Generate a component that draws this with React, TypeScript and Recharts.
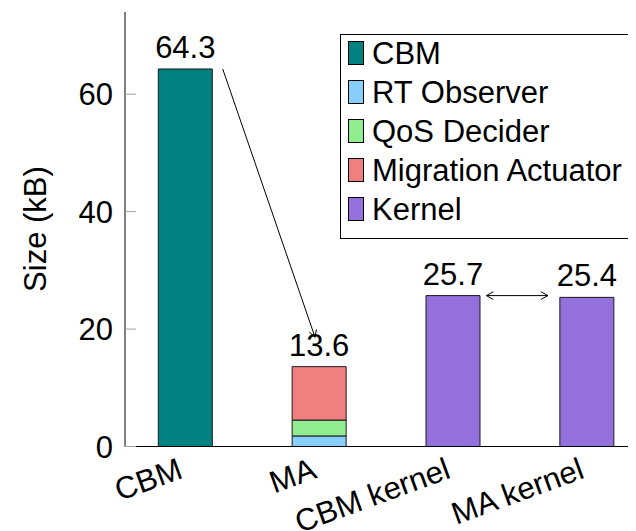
import React from "react";
import { BarChart, Bar, XAxis, YAxis, LabelList, ReferenceLine } from "recharts";

const categories = ["CBM", "MA", "CBM kernel", "MA kernel"];
const cbm = [64.3, null, null, null];
const rtObserver = [null, 1.8, null, null];
const qosDecider = [null, 2.7, null, null];
const migrationActuator = [null, 9.1, null, null];
const kernel = [null, null, 25.7, 25.4];
const totals = [64.3, 13.6, 25.7, 25.4];
const yTicks = [0, 20, 40, 60];

// annotation arrows, in data units
const shrinkArrow = [
  { x: 0.28, y: 64.3 },
  { x: 0.97, y: 18.6 },
];
const kernelArrow = [
  { x: 2.25, y: 25.7 },
  { x: 2.71, y: 25.7 },
];

const series = [
  { key: "cbm", name: "CBM", color: "#008080", values: cbm, top: true },
  { key: "rt", name: "RT Observer", color: "#87CEFA", values: rtObserver, top: false },
  { key: "qos", name: "QoS Decider", color: "#90EE90", values: qosDecider, top: false },
  { key: "mig", name: "Migration Actuator", color: "#F08080", values: migrationActuator, top: true },
  { key: "kernel", name: "Kernel", color: "#9370DB", values: kernel, top: true },
];

const data = categories.map((name, i) => {
  const row: Record<string, number | string | null> = { x: i, name, total: totals[i] };
  series.forEach((s) => (row[s.key] = s.values[i]));
  return row;
});

const FONT = 31;
const TICK_GRAY = "#a0a0a0";

function head(x: number, y: number, fx: number, fy: number) {
  // open chevron pointing at (x,y), coming from (fx,fy)
  const a = Math.atan2(y - fy, x - fx);
  const len = 8;
  const spread = 0.5;
  const p1 = [x - len * Math.cos(a - spread), y - len * Math.sin(a - spread)];
  const p2 = [x - len * Math.cos(a + spread), y - len * Math.sin(a + spread)];
  return `M${p1[0]},${p1[1]} L${x},${y} L${p2[0]},${p2[1]}`;
}

function arrowShape(both: boolean) {
  return (props: any) => {
    const { x1, y1, x2, y2 } = props;
    return (
      <g>
        <line x1={x1} y1={y1} x2={x2} y2={y2} stroke="#000" strokeWidth={1} />
        <path d={head(x2, y2, x1, y1)} fill="none" stroke="#000" strokeWidth={1} />
        {both && <path d={head(x1, y1, x2, y2)} fill="none" stroke="#000" strokeWidth={1} />}
      </g>
    );
  };
}

function BottomTick(props: any) {
  const { x, y, payload } = props;
  const label = categories[payload.value];
  const ex = x - 1;
  const ey = y + 31;
  return (
    <text
      x={ex}
      y={ey}
      textAnchor="end"
      fontSize={FONT}
      fill="#000"
      transform={`rotate(-20, ${ex}, ${ey})`}
    >
      {label}
    </text>
  );
}

function TopTick(props: any) {
  const { x, y } = props;
  return <line x1={x} y1={y} x2={x} y2={y + 10} stroke={TICK_GRAY} />;
}

function LeftTick(props: any) {
  const { x, y, payload } = props;
  return (
    <g>
      <line x1={x} y1={y} x2={x + 11} y2={y} stroke={TICK_GRAY} />
      <text x={x - 12} y={y} dy={11} textAnchor="end" fontSize={FONT} fill="#000">
        {payload.value}
      </text>
    </g>
  );
}

function totalLabel(props: any) {
  const { value } = props;
  if (value == null) return null;
  const vb = props.viewBox ?? props;
  const cx = vb.x + vb.width / 2;
  return (
    <text x={cx} y={vb.y - 11} textAnchor="middle" fontSize={FONT} fill="#000">
      {value}
    </text>
  );
}

export default function App() {
  return (
    <div
      style={{
        position: "relative",
        width: 628,
        height: 523,
        overflow: "hidden",
        fontFamily: '"Liberation Sans", Arial, Helvetica, sans-serif',
      }}
    >
      <BarChart
        width={650}
        height={523}
        data={data}
        margin={{ top: 4, right: 11, bottom: 0.5, left: 0 }}
      >
        <XAxis
          dataKey="x"
          type="number"
          domain={[-0.45, 3.45]}
          ticks={[0, 1, 2, 3]}
          allowDataOverflow
          height={84}
          axisLine={{ stroke: "#000" }}
          tickLine={false}
          tickSize={0}
          tickMargin={0}
          tick={<BottomTick />}
          interval={0}
        />
        <XAxis
          xAxisId="top"
          dataKey="x"
          orientation="top"
          type="number"
          domain={[-0.45, 3.45]}
          ticks={[0, 1, 2, 3]}
          allowDataOverflow
          height={0}
          axisLine={{ stroke: "#000" }}
          tickLine={false}
          tickSize={0}
          tickMargin={0}
          tick={<TopTick />}
          interval={0}
        />
        <YAxis
          type="number"
          domain={[0, 74]}
          ticks={yTicks}
          width={117}
          axisLine={{ stroke: "#000" }}
          tickLine={false}
          tickSize={0}
          tickMargin={0}
          tick={<LeftTick />}
          interval={0}
          label={{
            content: () => (
              <text
                x={27}
                y={221}
                textAnchor="middle"
                fontSize={FONT}
                fill="#000"
                transform="rotate(-90, 27, 221)"
                dy={11}
              >
                Size (kB)
              </text>
            ),
          }}
        />
        {series.map((s) => (
          <Bar
            key={s.key}
            dataKey={s.key}
            name={s.name}
            stackId="a"
            fill={s.color}
            stroke="#1a1a1a"
            strokeWidth={1}
            barSize={54}
            isAnimationActive={false}
          >
            {s.top && <LabelList dataKey="total" content={totalLabel} />}
          </Bar>
        ))}
        <ReferenceLine segment={shrinkArrow} shape={arrowShape(false)} />
        <ReferenceLine segment={kernelArrow} shape={arrowShape(true)} />
      </BarChart>
      <div
        style={{
          position: "absolute",
          left: 332,
          top: 26,
          width: 320,
          height: 205,
          boxSizing: "border-box",
          border: "1px solid #000",
          background: "#fff",
        }}
      >
        <div style={{ marginTop: -1.5 }}>
          {series.map((s) => (
            <div
              key={s.key}
              style={{ height: 39, display: "flex", alignItems: "center", paddingLeft: 7 }}
            >
              <span
                style={{
                  display: "inline-block",
                  width: 16,
                  height: 24,
                  boxSizing: "border-box",
                  border: "1px solid #000",
                  background: s.color,
                  marginRight: 8,
                }}
              />
              <span style={{ fontSize: FONT, lineHeight: "39px", whiteSpace: "nowrap" }}>{s.name}</span>
            </div>
          ))}
        </div>
      </div>
    </div>
  );
}
